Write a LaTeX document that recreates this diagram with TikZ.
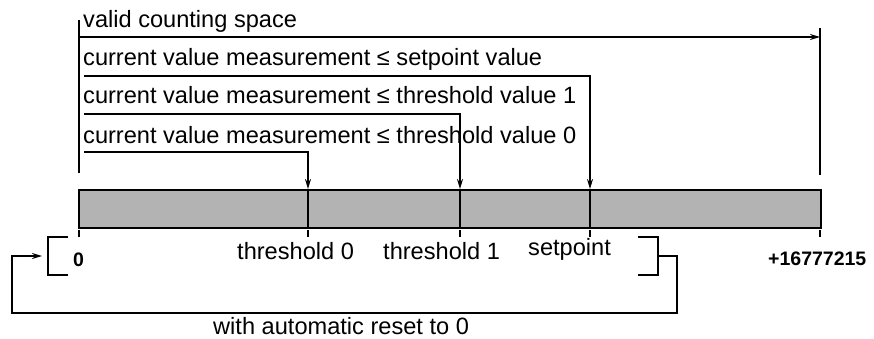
\documentclass[tikz,border=0pt]{standalone}
\usepackage{fontspec}
\setmainfont{Liberation Sans}
\usetikzlibrary{arrows.meta}
\definecolor{barcol}{HTML}{B3B3B3}
\begin{document}
\begin{tikzpicture}[x=1pt,y=-1pt,
  ln/.style={line width=1.7pt},
  arr/.style={ln,-{Stealth[length=10pt,width=6pt]}},
  txt/.style={inner sep=0pt,anchor=base west,font=\fontsize{23.6}{28}\selectfont},
  bld/.style={inner sep=0pt,anchor=base west,font=\fontsize{19.5}{23}\selectfont\bfseries}]
\useasboundingbox (0,0) rectangle (874,339);
% bar
\node[draw,ln,fill=barcol,minimum width=742pt,minimum height=38pt,inner sep=0pt,anchor=north west] (bar) at (78,189) {};
\coordinate (d0) at (308,189); \coordinate (d1) at (460,189); \coordinate (d2) at (590,189);
\draw[ln] (d0) -- (308,227);
\draw[ln] (d1) -- (460,227);
\draw[ln] (d2) -- (590,227);
% ticks
\foreach \x in {79,308,460,590,820} \draw[ln] (\x,230) -- (\x,237);
% top structure
\coordinate (lt) at (79,20); \coordinate (lb) at (79,173);
\coordinate (rt) at (820,28); \coordinate (rb) at (820,175);
\draw[ln] (lt) -- (lb);
\draw[ln] (rt) -- (rb);
\draw[arr] (79,37) -- (820,37);
\coordinate (s2) at (84,76); \coordinate (s1) at (84,114); \coordinate (s0) at (84,152);
\draw[arr] (s2) -| (d2);
\draw[arr] (s1) -| (d1);
\draw[arr] (s0) -| (d0);
\node[txt] (t1) at (83,28) {valid counting space};
\node[txt] (t2) at (83,66) {current value measurement ≤ setpoint value};
\node[txt] (t3) at (83,104) {current value measurement ≤ threshold value 1};
\node[txt] (t4) at (83,143) {current value measurement ≤ threshold value 0};
% bottom labels
\node[bld] (z) at (73,266) {0};
\node[txt] (th0) at (237,259) {threshold 0};
\node[txt] (th1) at (383,259) {threshold 1};
\node[txt] (sp) at (528,255) {setpoint};
\node[bld] (mx) at (768,265) {+16777215};
\node[txt] (rs) at (213,334) {with automatic reset to 0};
% brackets and reset loop
\draw[ln] (68,237) -- (48,237) -- (48,275) -- (68,275);
\draw[ln] (638,237) -- (658,237) -- (658,275) -- (638,275);
\coordinate (rbm) at (658,256);
\coordinate (lbm) at (42,256);
\draw[arr] (rbm) -- (677,256) |- (12,313) |- (lbm);
\end{tikzpicture}
\end{document}
